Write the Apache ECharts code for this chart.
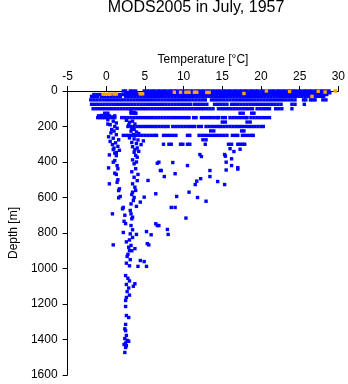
<!DOCTYPE html>
<html><head><meta charset="utf-8">
<script src="https://cdn.jsdelivr.net/npm/echarts@6/dist/echarts.min.js"></script>
<style>html,body{margin:0;padding:0;background:#fff}#c{width:348px;height:384px}</style>
</head><body><div id="c"></div>
<script>
// ---- data: temperature lists per standard depth (m) ----
const d0 = [2.2,2.5,3.1,3.4,3.8,4.9,5.3,5.6,6.0,6.3,6.7,7.0,7.4,7.7,8.1,8.4,8.8,9.1,9.5,9.8,10.2,10.5,10.9,11.2,11.6,11.9,12.3,12.6,13.0,13.3,13.7,14.0,14.4,14.7,15.1,15.4,15.8,16.1,16.5,16.8,17.2,17.5,17.9,18.2,18.6,18.9,19.3,19.6,20.0,20.3,20.7,21.0,21.4,21.7,22.1,22.4,22.8,23.1,23.5,23.8,24.2,24.5,24.9,25.2,25.6,25.9,26.3,26.6,27.0,27.3,27.7,28.0,28.4,28.8];
const d10 = [2.6,3.0,3.5,3.9,5.0,5.4,5.7,6.1,6.4,6.8,7.1,7.5,7.8,8.2,8.5,8.9,9.2,9.6,9.9,10.3,10.6,11.0,11.3,11.7,12.0,12.4,12.7,13.1,13.4,13.8,14.1,14.5,14.8,15.2,15.5,15.9,16.2,16.6,16.9,17.3,17.6,18.0,18.3,18.7,19.0,19.4,19.7,20.1,20.4,20.8,21.1,21.5,21.8,22.2,22.5,22.9,23.2,23.6,23.9,24.3,24.6,25.0,25.3,25.7,26.0,26.4,26.7,27.1,27.4,27.8,28.1,28.5,28.9];
const d20 = [-1.6,-1.2,-0.8,0.6,1.0,1.4,1.8,2.2,2.6,3.0,3.4,3.8,4.2,4.6,5.0,5.3,5.7,6.0,6.4,6.7,7.1,7.4,7.8,8.1,8.5,8.8,9.2,9.5,9.9,10.2,10.6,10.9,11.3,11.6,12.0,12.3,12.7,13.0,13.4,13.7,14.1,14.4,14.8,15.1,15.5,15.8,16.2,16.5,16.9,17.2,17.6,17.9,18.3,18.6,19.0,19.3,19.7,20.0,20.4,20.7,21.1,21.4,21.8,22.1,22.5,22.8,23.2,23.5,23.9,24.2,24.6,24.9,25.3,25.6,26.0,26.3,26.7,27.0,27.4,27.7,28.1,28.5];
const d30 = [-1.9,-1.5,-1.1,-0.6,-0.2,0.2,0.6,1.0,1.4,1.8,2.5,2.9,3.3,3.7,4.1,4.5,4.9,5.3,5.7,6.1,6.5,6.9,7.3,7.7,8.1,8.5,8.9,9.3,9.7,10.1,10.5,10.9,11.3,11.7,12.1,12.5,12.9,13.3,13.7,14.1,14.5,14.9,15.3,15.7,16.1,16.5,16.9,17.3,17.7,18.1,18.5,18.9,19.3,19.7,20.1,20.5,20.9,21.3,21.7,22.1,22.5,22.9,23.3,23.7,24.1,24.5,24.9,25.3,25.7,26.1,26.5,26.9,27.3,27.7,28.1];
const d50 = [-2.0,-1.6,-1.2,-0.8,-0.4,0.0,0.4,0.8,1.2,1.6,2.0,2.4,2.8,3.2,3.6,4.0,4.4,4.8,5.2,5.6,6.0,6.4,6.8,7.2,7.6,8.0,8.4,8.8,9.2,9.6,10.0,10.4,10.8,11.2,11.6,12.0,12.4,12.8,13.6,14.0,14.4,14.8,15.2,15.6,16.0,16.4,16.8,17.2,17.6,18.0,18.4,18.8,19.2,19.6,20.0,20.4,20.8,21.2,21.6,22.0,22.4,22.8,23.2,23.6,24.0,24.4,25.5,25.8,26.4,26.7,27.0,28.0,28.4];
const d75 = [-1.9,-1.5,-1.1,-0.7,-0.3,0.1,0.5,0.9,1.3,1.7,2.1,2.5,2.9,3.3,3.7,4.1,4.5,4.9,5.3,5.7,6.1,6.5,6.9,7.3,7.7,8.1,8.5,8.9,9.3,9.7,10.1,10.5,10.9,11.4,11.8,12.2,12.6,13.0,14.0,14.4,14.8,15.2,15.6,16.2,16.6,17.0,17.4,17.8,18.2,18.6,19.0,19.4,19.8,20.2,20.6,21.0,21.4,21.8,22.2,22.6,24.0,24.4,25.6];
const d100 = [-1.7,-1.3,-0.9,-0.5,-0.1,0.3,0.7,1.1,1.5,1.9,2.3,2.7,3.1,3.5,3.9,4.3,4.7,5.1,5.5,5.9,6.3,6.7,7.1,7.5,7.9,8.3,8.7,9.1,9.5,9.9,10.3,10.7,11.1,11.5,11.9,12.3,12.6,13.0,13.4,13.8,14.5,14.9,15.3,15.7,16.1,16.5,16.9,17.3,17.7,18.1,18.5,18.9,19.5,19.9,20.3,20.7,21.1,21.9,22.3,22.7,24.0];
const d125 = [-0.2,0.2,3.2,3.5,3.8,17.3,17.7,18.8,19.1];
const d150 = [-1.1,-0.8,-0.5,-0.2,0.1,0.4,0.8,1.1,2.0,2.4,2.8,3.2,3.6,4.0,4.4,4.8,5.2,5.6,6.0,6.4,6.8,7.2,7.6,8.0,8.4,8.8,9.2,9.6,10.0,10.4,10.7,11.3,11.6,12.3,12.7,13.1,13.5,13.9,14.3,14.5,15.0,15.4,16.0,16.4,16.8,17.2,17.6,18.0,18.2,18.7,19.1,19.5,19.9,20.3,20.7,21.1];
const d175 = [15.0,15.4,18.2,18.6];
const d200 = [2.8,3.2,3.6,4.0,4.4,4.8,5.2,5.6,6.0,6.4,6.8,7.2,7.6,8.0,8.6,9.0,9.4,9.8,10.2,10.6,11.0,11.4,11.9,12.3,12.9,13.3,13.7,14.1,14.5,14.8,15.2,15.6,16.0,16.4,16.8,17.2,17.6,18.0,18.4,18.8,19.2,19.6,20.0,20.3];
const d225 = [13.5,13.9,17.5,17.8];
const d250 = [2.2,2.6,3.0,3.4,3.8,4.2,4.6,5.0,5.4,5.8,6.2,6.5,7.4,7.8,8.2,8.6,9.0,10.5,10.8,12.0,12.4,12.8,13.2,13.6,14.0,14.4,14.8,15.2,15.6,16.3,16.7,17.0,17.6,18.0,18.4,18.8,19.0];
const d275 = [12.5,12.9];
const d300 = [7.4,8.1,8.4,9.6,9.9,10.5,10.8,12.8,15.8,16.2,17.0,17.3,17.6,17.9];
const rowDepths = [0,10,20,30,50,75,100,125,150,175,200,225,250,275,300];
const rowTemps = [d0,d10,d20,d30,d50,d75,d100,d125,d150,d175,d200,d225,d250,d275,d300];

// ---- individual profiles: [temperature, depth] ----
const columnPts = [
 [-1.0,140],[-0.6,138],[-0.3,145],[0.0,135],[0.4,140],[0.8,146],[1.1,140],
 [0.2,162],[0.9,170],[1.3,180],[0.5,190],[1.1,200],[1.4,210],[0.7,217],[0.2,186],[1.0,226],[0.6,236],[1.3,246],
 [0.3,258],[0.9,266],[1.6,275],[0.5,284],[1.2,292],[0.8,302],[1.5,312],[1.0,322],[1.7,334],[0.9,330],[1.3,346],
 [3.2,115],[3.6,120],[3.8,126],[2.6,165],[3.0,176],[3.4,170],[3.7,186],[2.9,192],[3.3,210],[3.6,216],[3.2,226],
 [3.9,231],[4.2,240],[3.5,246],[3.0,264],[3.6,270],[4.1,276],[4.8,281],[3.3,290],[3.9,296],[4.5,302],[3.4,314],
 [4.0,321],[3.7,331],[4.2,340],
 [0.4,360],[1.1,350],[1.3,364],[1.1,392],[0.9,401],[1.4,420],[1.5,438],[0.3,433],[1.1,463],[1.3,470],[1.5,500],
 [1.4,514],[0.4,523],[1.7,551],[1.6,561],[1.8,594],[1.6,602],[0.8,692],[0.9,867],
 [3.6,345],[3.8,363],[4.0,373],[3.4,388],[3.9,400],[3.6,410],[3.8,438],[3.3,455],[4.1,470],[3.6,486],[4.0,505],
 [3.4,523],[3.7,542],[3.8,560],[3.4,570],[3.3,583],[3.6,600],[3.5,617],[4.4,626],[3.2,636],[3.9,650]
];
const deepPts = [
 [2.1,664],[2.2,656],[3.1,673],[3.2,692],[2.4,700],[3.4,711],[3.3,720],[2.3,734],[2.5,747],[3.2,758],[3.4,782],
 [2.2,797],[3.1,805],[3.4,825],[3.0,839],[2.6,850],[3.2,870],[2.9,880],[3.7,888],[3.0,899],[3.3,900],[2.8,920],
 [2.7,932],[3.1,950],[2.6,970],[3.0,985],
 [2.5,1040],[2.8,1055],[3.0,1070],[3.7,1086],[2.6,1090],[3.5,1100],[2.9,1110],[2.7,1130],[3.0,1150],[2.6,1163],
 [2.5,1180],[2.5,1214],[2.6,1265],[2.9,1276],[2.5,1315],[2.4,1340],[2.5,1350],[2.6,1377],[2.4,1395],[2.7,1405],
 [2.9,1410],[2.5,1420],[2.3,1428],[2.6,1435],[2.5,1445],[2.4,1473]
];
const scatterPts = [
 [6.8,401],[8.6,403],[7.1,448],[7.5,482],[8.9,466],[10.5,420],[12.3,369],[15.4,367],[16.2,382],[16.5,341],
 [15.5,401],[16.2,420],[17.0,432],[13.4,448],[13.4,482],[12.2,494],[11.7,508],[11.5,527],[14.4,510],[15.3,527],
 [10.7,570],[9.1,594],[11.8,600],[12.9,621],[8.4,656],[8.9,656],[10.3,716],[6.8,758],[7.9,780],[8.0,808],
 [6.6,407],[7.0,448],[5.4,504],[6.4,579],[4.9,598],[6.4,748],[6.6,758],[5.2,792],[5.8,810],[5.5,867],
 [4.4,955],[4.9,961],[5.2,988],[4.1,988],[5.3,860],[3.9,808],
 [12.1,358],[15.3,358],[16.0,325],[17.3,328],[15.5,445],[17.0,440]
];
// surface profiles flagged in orange
const orangePts = [
 [-0.4,18],[-0.1,18],[0.2,18],[0.5,18],[1.0,17],[1.3,17],[4.4,16],[4.7,16],[8.8,7],[9.6,7],[10.3,7],[10.7,7],
 [11.4,7],[11.7,7],[13.0,8],[13.3,8],[17.8,14],[20.7,0],[23.7,3],[26.6,30],[27.4,2],[28.3,6],[29.6,0]
];
const xMin = -5, xMax = 30, xStep = 5;
const yMin = 0, yMax = 1600, yStep = 200;

const blue = [];
rowDepths.forEach((d, i) => rowTemps[i].forEach(t => blue.push([t, d])));
columnPts.concat(deepPts, scatterPts).forEach(p => blue.push(p));

const FONT = '"Liberation Sans", Arial, Helvetica, sans-serif';
const chart = echarts.init(document.getElementById('c'), null, {renderer: 'canvas'});
chart.setOption({
  animation: false,
  backgroundColor: '#ffffff',
  textStyle: {fontFamily: FONT},
  graphic: [{
    type: 'text', x: 196, y: 8,
    style: {text: 'MODS2005 in July, 1957', fontSize: 16, fontFamily: FONT, fill: '#000',
            textAlign: 'center', textVerticalAlign: 'middle'}
  }],
  grid: {left: 53, right: 9, top: 91, bottom: 9, containLabel: false},
  xAxis: {
    type: 'value', position: 'top', min: xMin, max: xMax, interval: xStep,
    name: 'Temperature [°C]', nameLocation: 'middle', nameGap: 20,
    nameTextStyle: {fontSize: 12, color: '#000', fontFamily: FONT},
    axisLine: {show: true, onZero: false, lineStyle: {color: '#000', width: 1}},
    axisTick: {show: true, inside: false, length: 5, lineStyle: {color: '#000'}},
    axisLabel: {fontSize: 12, color: '#000', margin: 8, fontFamily: FONT, formatter: v => String(v)},
    splitLine: {show: false}
  },
  yAxis: {
    type: 'value', inverse: true, min: yMin, max: yMax, interval: yStep,
    name: 'Depth [m]', nameLocation: 'middle', nameGap: 44,
    nameTextStyle: {fontSize: 12, color: '#000', fontFamily: FONT},
    axisLine: {show: true, onZero: false, lineStyle: {color: '#000', width: 1}},
    axisTick: {show: true, inside: false, length: 5, lineStyle: {color: '#000'}},
    axisLabel: {fontSize: 12, color: '#000', margin: 10, fontFamily: FONT, formatter: v => String(v)},
    splitLine: {show: false}
  },
  series: [
    {type: 'scatter', symbol: 'rect', symbolSize: 3.4, clip: false, silent: true,
     itemStyle: {color: '#0000ff', opacity: 1}, data: blue},
    {type: 'scatter', symbol: 'rect', symbolSize: 3.4, clip: false, silent: true,
     itemStyle: {color: '#ffa500', opacity: 1}, data: orangePts}
  ]
});
</script></body></html>
